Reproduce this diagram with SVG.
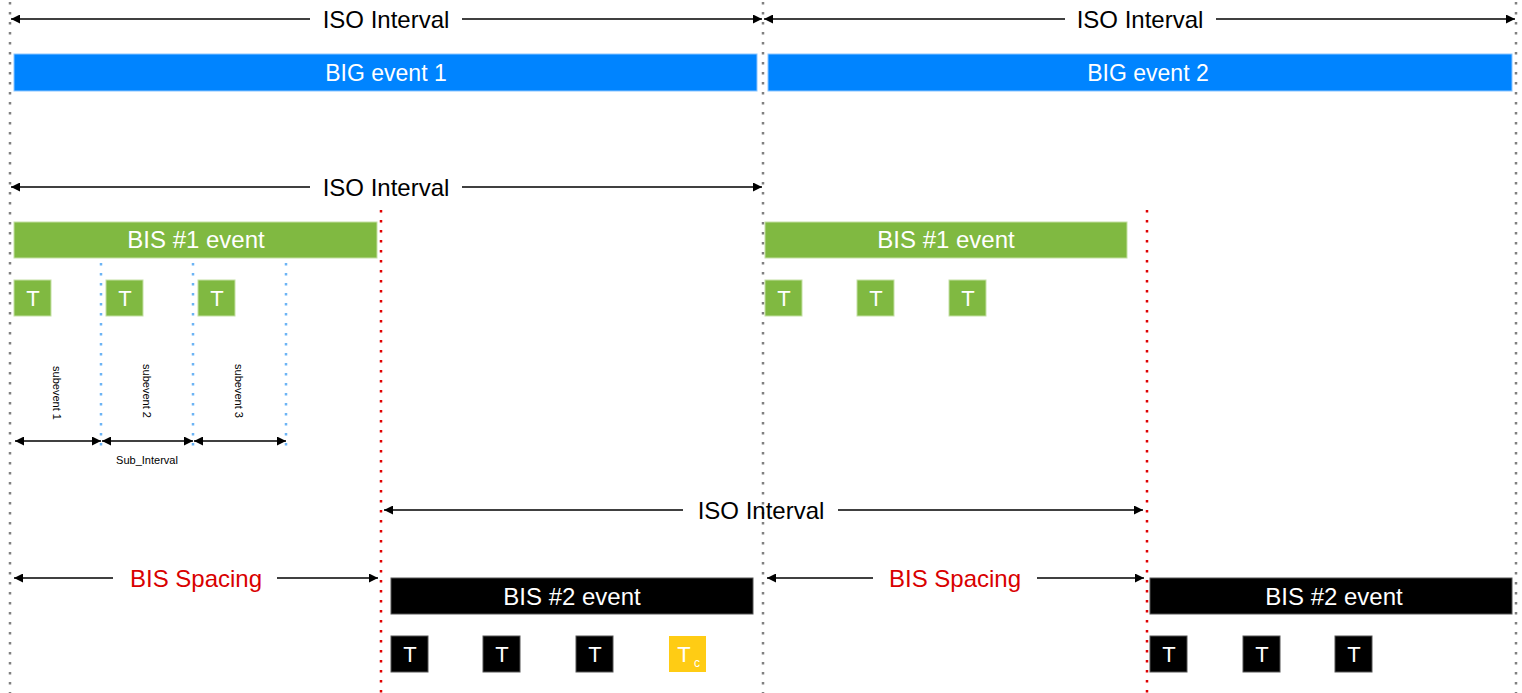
<svg xmlns="http://www.w3.org/2000/svg" width="1522" height="693" viewBox="0 0 1522 693">
<style>
text{font-family:"Liberation Sans",Arial,sans-serif}
.lbl{font-size:24px;fill:#000;text-anchor:middle}
.red{font-size:24px;fill:#d90000;text-anchor:middle}
.wt{font-size:22px;fill:#fff;text-anchor:middle}
.ev{font-size:24px;fill:#fff;text-anchor:middle}
.sm{font-size:11px;fill:#000;text-anchor:middle}
.gdot{stroke:#808080;stroke-width:2.5;stroke-dasharray:2.5 7.5;fill:none}
.rdot{stroke:#e00000;stroke-width:2.5;stroke-dasharray:2.5 7.5;fill:none}
.bdot{stroke:#6cb4f5;stroke-width:2.5;stroke-dasharray:2.5 7.5;fill:none}
.ar{stroke:#000;stroke-width:1.6;fill:none}
.big{fill:#0084ff;stroke:#8cc6ff;stroke-width:1}
.grn{fill:#80b941;stroke:#c4e0a4;stroke-width:1}
.blk{fill:#000;stroke:#555;stroke-width:1}
.yel{fill:#ffcc14}
</style>
<defs>
<marker id="ah" viewBox="0 0 10 10" refX="10" refY="5" markerWidth="11" markerHeight="9" markerUnits="userSpaceOnUse" orient="auto-start-reverse"><path d="M0,0 L10,5 L0,10 z" fill="#000"/></marker>
<marker id="ahs" viewBox="0 0 10 10" refX="10" refY="5" markerWidth="9" markerHeight="9" markerUnits="userSpaceOnUse" orient="auto-start-reverse"><path d="M0,0 L10,5 L0,10 z" fill="#000"/></marker>
</defs>
<g id="guides">
<line class="gdot" x1="10" y1="2" x2="10" y2="693"/>
<line class="gdot" x1="763" y1="2" x2="763" y2="693"/>
<line class="gdot" x1="1516" y1="2" x2="1516" y2="693"/>
<line class="rdot" x1="381" y1="210" x2="381" y2="693"/>
<line class="rdot" x1="1147" y1="210" x2="1147" y2="693"/>
<line class="bdot" x1="101" y1="263" x2="101" y2="452"/>
<line class="bdot" x1="193" y1="263" x2="193" y2="452"/>
<line class="bdot" x1="286" y1="263" x2="286" y2="452"/>
</g>
<g id="connectors">
<line class="ar" x1="310" y1="19" x2="11" y2="19" marker-end="url(#ah)"/>
<line class="ar" x1="462" y1="19" x2="762" y2="19" marker-end="url(#ah)"/>
<line class="ar" x1="1065" y1="19" x2="764" y2="19" marker-end="url(#ah)"/>
<line class="ar" x1="1216" y1="19" x2="1515" y2="19" marker-end="url(#ah)"/>
<line class="ar" x1="310" y1="187" x2="11" y2="187" marker-end="url(#ah)"/>
<line class="ar" x1="462" y1="187" x2="762" y2="187" marker-end="url(#ah)"/>
<line class="ar" x1="683" y1="510" x2="384" y2="510" marker-end="url(#ah)"/>
<line class="ar" x1="838" y1="510" x2="1143" y2="510" marker-end="url(#ah)"/>
<line class="ar" x1="113" y1="578" x2="14" y2="578" marker-end="url(#ah)"/>
<line class="ar" x1="277" y1="578" x2="378" y2="578" marker-end="url(#ah)"/>
<line class="ar" x1="873" y1="578" x2="767" y2="578" marker-end="url(#ah)"/>
<line class="ar" x1="1037" y1="578" x2="1144" y2="578" marker-end="url(#ah)"/>
<line class="ar" stroke-width="2" x1="15" y1="441" x2="101" y2="441" marker-start="url(#ahs)" marker-end="url(#ahs)"/>
<line class="ar" stroke-width="2" x1="102" y1="441" x2="193" y2="441" marker-start="url(#ahs)" marker-end="url(#ahs)"/>
<line class="ar" stroke-width="2" x1="194" y1="441" x2="286" y2="441" marker-start="url(#ahs)" marker-end="url(#ahs)"/>
</g>
<g id="labels">
<text class="lbl" x="386" y="28">ISO Interval</text>
<text class="lbl" x="1140" y="28">ISO Interval</text>
<text class="lbl" x="386" y="196">ISO Interval</text>
<text class="lbl" x="761" y="519">ISO Interval</text>
<text class="red" x="196" y="587">BIS Spacing</text>
<text class="red" x="955" y="587">BIS Spacing</text>
<text class="sm" x="147" y="464">Sub_Interval</text>
<text class="sm" transform="translate(53,393) rotate(90)">subevent 1</text>
<text class="sm" transform="translate(143,391) rotate(90)">subevent 2</text>
<text class="sm" transform="translate(235,391) rotate(90)">subevent 3</text>
</g>
<g id="big1"><rect class="big" x="14" y="54" width="743" height="37"/><text class="ev" style="font-size:23px" x="386" y="81">BIG event 1</text></g>
<g id="big2"><rect class="big" x="768" y="54" width="744" height="37"/><text class="ev" style="font-size:23px" x="1148" y="81">BIG event 2</text></g>
<g id="bis1a"><rect class="grn" x="14" y="222" width="363" height="36"/><text class="ev" x="196" y="248">BIS #1 event</text></g>
<g id="bis1b"><rect class="grn" x="765" y="222" width="362" height="36"/><text class="ev" x="946" y="248">BIS #1 event</text></g>
<g id="t1a"><rect class="grn" x="14" y="280" width="37" height="36"/><text class="wt" x="33" y="306">T</text></g>
<g id="t1b"><rect class="grn" x="106" y="280" width="37" height="36"/><text class="wt" x="125" y="306">T</text></g>
<g id="t1c"><rect class="grn" x="198" y="280" width="37" height="36"/><text class="wt" x="217" y="306">T</text></g>
<g id="t1d"><rect class="grn" x="765" y="280" width="37" height="36"/><text class="wt" x="784" y="306">T</text></g>
<g id="t1e"><rect class="grn" x="857" y="280" width="37" height="36"/><text class="wt" x="876" y="306">T</text></g>
<g id="t1f"><rect class="grn" x="949" y="280" width="37" height="36"/><text class="wt" x="968" y="306">T</text></g>
<g id="bis2a"><rect class="blk" x="391" y="578" width="362" height="36"/><text class="ev" x="572" y="605">BIS #2 event</text></g>
<g id="bis2b"><rect class="blk" x="1150" y="578" width="362" height="36"/><text class="ev" x="1334" y="605">BIS #2 event</text></g>
<g id="t2a"><rect class="blk" x="391" y="636" width="37" height="36"/><text class="wt" x="410" y="662">T</text></g>
<g id="t2b"><rect class="blk" x="483" y="636" width="37" height="36"/><text class="wt" x="502" y="662">T</text></g>
<g id="t2c"><rect class="blk" x="576" y="636" width="37" height="36"/><text class="wt" x="595" y="662">T</text></g>
<g id="tc"><rect class="yel" x="669" y="636" width="37" height="36"/><text class="wt" x="684" y="662">T</text><text x="694" y="667" style="font-size:12px;fill:#fff">c</text></g>
<g id="t2d"><rect class="blk" x="1150" y="636" width="37" height="36"/><text class="wt" x="1169" y="662">T</text></g>
<g id="t2e"><rect class="blk" x="1243" y="636" width="37" height="36"/><text class="wt" x="1262" y="662">T</text></g>
<g id="t2f"><rect class="blk" x="1335" y="636" width="37" height="36"/><text class="wt" x="1354" y="662">T</text></g>
</svg>
